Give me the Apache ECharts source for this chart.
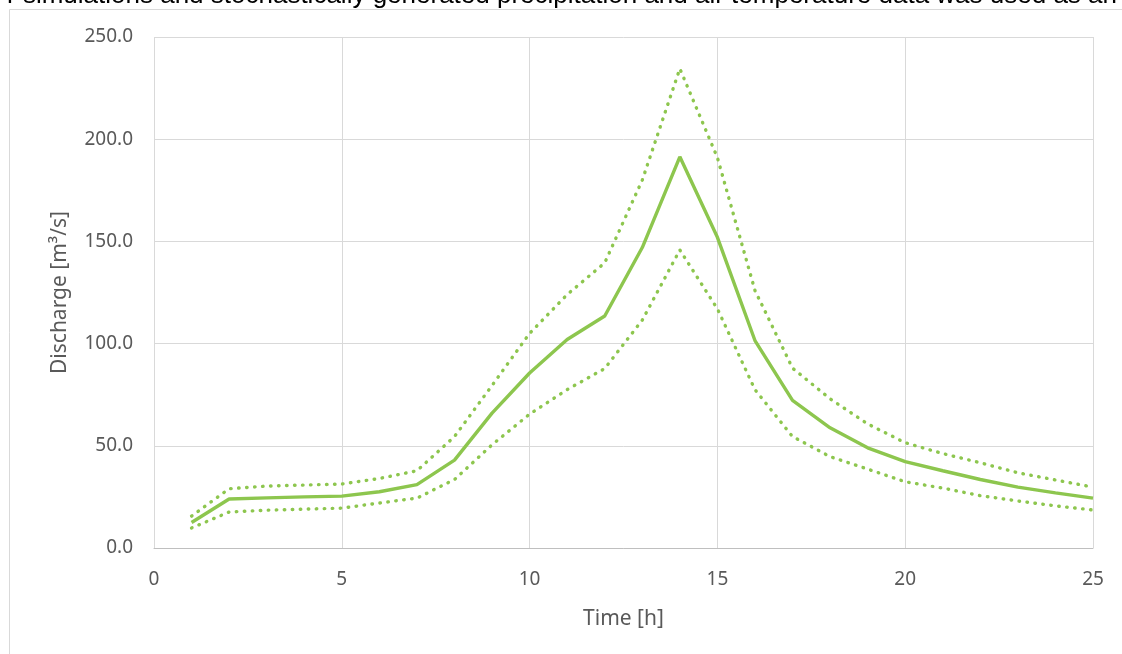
<!DOCTYPE html>
<html>
<head>
<meta charset="utf-8">
<script src="https://cdn.jsdelivr.net/npm/echarts@6/dist/echarts.min.js"></script>
<style>
	html, body { margin: 0; padding: 0; background: #fff; }
	#chart { width: 1122px; height: 654px; }
</style>
</head>
<body>
<div id="chart"></div>
<script>
// hours
var hours = [1, 2, 3, 4, 5, 6, 7, 8, 9, 10, 11, 12, 13, 14, 15, 16, 17, 18, 19, 20, 21, 22, 23, 24, 25];
// discharge, m3/s
var dischargeMean = [12.5, 24, 24.5, 25, 25.4, 27.5, 31, 43, 66, 85.6, 102, 113.5, 147, 191.4, 152, 101.5, 72.2, 58.8, 49, 42.3, 37.8, 33.5, 29.8, 27, 24.4];
var dischargeUpper = [15.6, 29, 30.3, 30.8, 31.3, 34, 37.8, 54.5, 79.5, 105, 124, 139.5, 180, 234.5, 191, 126, 88, 73, 60.7, 51.5, 46.2, 41.7, 36.8, 33.3, 29.8];
var dischargeLower = [9.8, 17.6, 18.5, 19, 19.5, 22, 24.4, 33.5, 50.5, 65.5, 77.5, 87.8, 111.5, 145.8, 117, 77.5, 54.5, 44.7, 38.6, 32.4, 29.3, 25.6, 23, 20.6, 18.6];
var yTicks = [0, 50, 100, 150, 200, 250];

function pairs(vals) {
	return hours.map(function(h, i) { return [h, vals[i]]; });
}

var green = '#8dc64e';
var grey = '#595959';
var font = '"Noto Sans", sans-serif';

var myChart = echarts.init(document.getElementById('chart'));
var option = {
	animation: false,
	backgroundColor: '#fff',
	graphic: [
		{
			type: 'text',
			right: 5,
			top: -17,
			style: {
				text: 'r simulations and stochastically generated precipitation and air temperature data was used as an',
				fill: '#000',
				font: '26px "Liberation Sans", Arial, sans-serif'
			}
		},
		{
			type: 'rect',
			shape: { x: 9.5, y: 9.5, width: 1200, height: 700 },
			style: { fill: 'none', stroke: '#d9d9d9', lineWidth: 1 }
		}
	],
	grid: {
		left: 154,
		right: 29,
		top: 37,
		bottom: 106,
		containLabel: false
	},
	xAxis: {
		type: 'value',
		min: 0,
		max: 25,
		interval: 5,
		name: 'Time [h]',
		nameLocation: 'middle',
		nameGap: 61,
		nameTextStyle: { color: grey, fontSize: 21, fontFamily: font },
		axisLine: { show: true, lineStyle: { color: '#bfbfbf', width: 1 } },
		axisTick: { show: false },
		axisLabel: { color: grey, fontSize: 19, fontFamily: font, margin: 22 },
		splitLine: { show: true, lineStyle: { color: '#d9d9d9', width: 1 } }
	},
	yAxis: {
		type: 'value',
		min: yTicks[0],
		max: yTicks[yTicks.length - 1],
		interval: 50,
		name: 'Discharge [m³/s]',
		nameLocation: 'middle',
		nameGap: 83,
		nameTextStyle: { color: grey, fontSize: 21, fontFamily: font },
		axisLine: { show: false },
		axisTick: { show: false },
		axisLabel: {
			color: grey, fontSize: 19, fontFamily: font, margin: 21,
			formatter: function(v) { return v.toFixed(1); }
		},
		splitLine: { show: true, lineStyle: { color: '#d9d9d9', width: 1 } }
	},
	series: [
		{
			name: 'Upper',
			type: 'line',
			data: pairs(dischargeUpper),
			symbol: 'none',
			lineStyle: { color: green, width: 3.4, type: [0.5, 7.5], cap: 'round' }
		},
		{
			name: 'Lower',
			type: 'line',
			data: pairs(dischargeLower),
			symbol: 'none',
			lineStyle: { color: green, width: 3.4, type: [0.5, 7.5], cap: 'round' }
		},
		{
			name: 'Mean',
			type: 'line',
			data: pairs(dischargeMean),
			symbol: 'none',
			lineStyle: { color: green, width: 3.4 }
		}
	]
};
myChart.setOption(option);
</script>
</body>
</html>
